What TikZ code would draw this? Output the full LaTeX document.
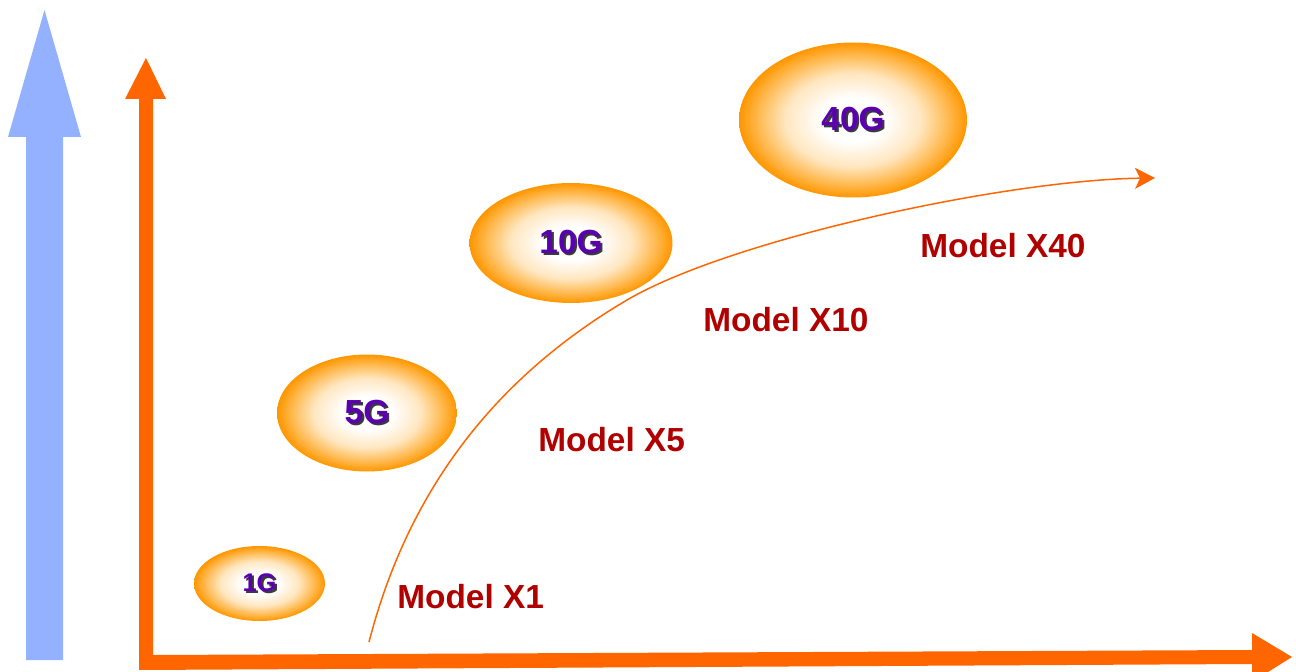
\documentclass[tikz,border=0pt]{standalone}
\usepackage{fontspec}
\setmainfont{Liberation Sans}
\usetikzlibrary{shapes.geometric,arrows.meta}

\definecolor{axisorange}{HTML}{FF6600}
\definecolor{arrowblue}{HTML}{94B1FF}
\definecolor{glowedge}{HTML}{FF9600}
\definecolor{glowmid}{HTML}{FFB84D}
\definecolor{glowsoft}{HTML}{FFE6BF}
\definecolor{ratepurple}{HTML}{5A00B0}
\definecolor{modelred}{HTML}{B00000}
\definecolor{rateshadow}{HTML}{3A3A3A}

\pgfdeclareradialshading{glow}{\pgfpoint{0bp}{0bp}}{color(0bp)=(white); color(7bp)=(white); color(15bp)=(glowsoft); color(21bp)=(glowmid); color(25bp)=(glowedge); color(50bp)=(glowedge)}

\newcommand{\ratetext}[1]{\rlap{\hspace{1.2pt}\raisebox{-1.2pt}{\color{rateshadow}#1}}#1}

\tikzset{
  rate/.style={ellipse, shade, shading=glow, text=ratepurple, inner sep=0pt,
    font=\bfseries\fontsize{19}{19}\selectfont},
  model/.style={anchor=west, text=modelred, inner sep=0pt,
    font=\bfseries\fontsize{19}{19}\selectfont},
}

\begin{document}
\begin{tikzpicture}[x=0.02cm, y=-0.02cm]

	\useasboundingbox (0,0) rectangle (1296,672);

	% axes
	\fill[arrowblue] (26,660) -- (26,137) -- (8,137) -- (44.5,10) -- (81,137) -- (63,137) -- (63,660) -- cycle;
	\fill[axisorange] (139,670) -- (139,99) -- (125,99) -- (146,58) -- (166,99) -- (153,99) -- (153,655)
		-- (1252,650) -- (1252,633) -- (1292,657) -- (1252,682) -- (1252,664) -- cycle;

	% rates
	\node[rate, minimum width=2.62cm, minimum height=1.5cm] (g1) at (259.5,583.5) {\fontsize{14.5}{14.5}\selectfont\ratetext{1G}};
	\node[rate, minimum width=3.6cm, minimum height=2.34cm] (g5) at (367,413) {\ratetext{5G}};
	\node[rate, minimum width=4.06cm, minimum height=2.4cm] (g10) at (571,243) {\ratetext{10G}};
	\node[rate, minimum width=4.56cm, minimum height=3.1cm] (g40) at (853,120) {\ratetext{40G}};

	% growth curve
	\coordinate (cstart) at (369,642);
	\coordinate (cmid) at (627,300);
	\coordinate (cend) at (1155,178);
	\draw[axisorange, line width=0.85pt, -{Stealth[length=0.4cm, width=0.42cm, inset=0.1cm]}]
		(cstart) .. controls (409,487) and (498,376) .. (cmid)
		.. controls (730.6,239.3) and (1005,180) .. (cend);

	% models
	\node[model] (x1) at (397,597) {Model X1};
	\node[model] (x5) at (538,440) {Model X5};
	\node[model] (x10) at (703,320) {Model X10};
	\node[model] (x40) at (920,246) {Model X40};

\end{tikzpicture}
\end{document}
